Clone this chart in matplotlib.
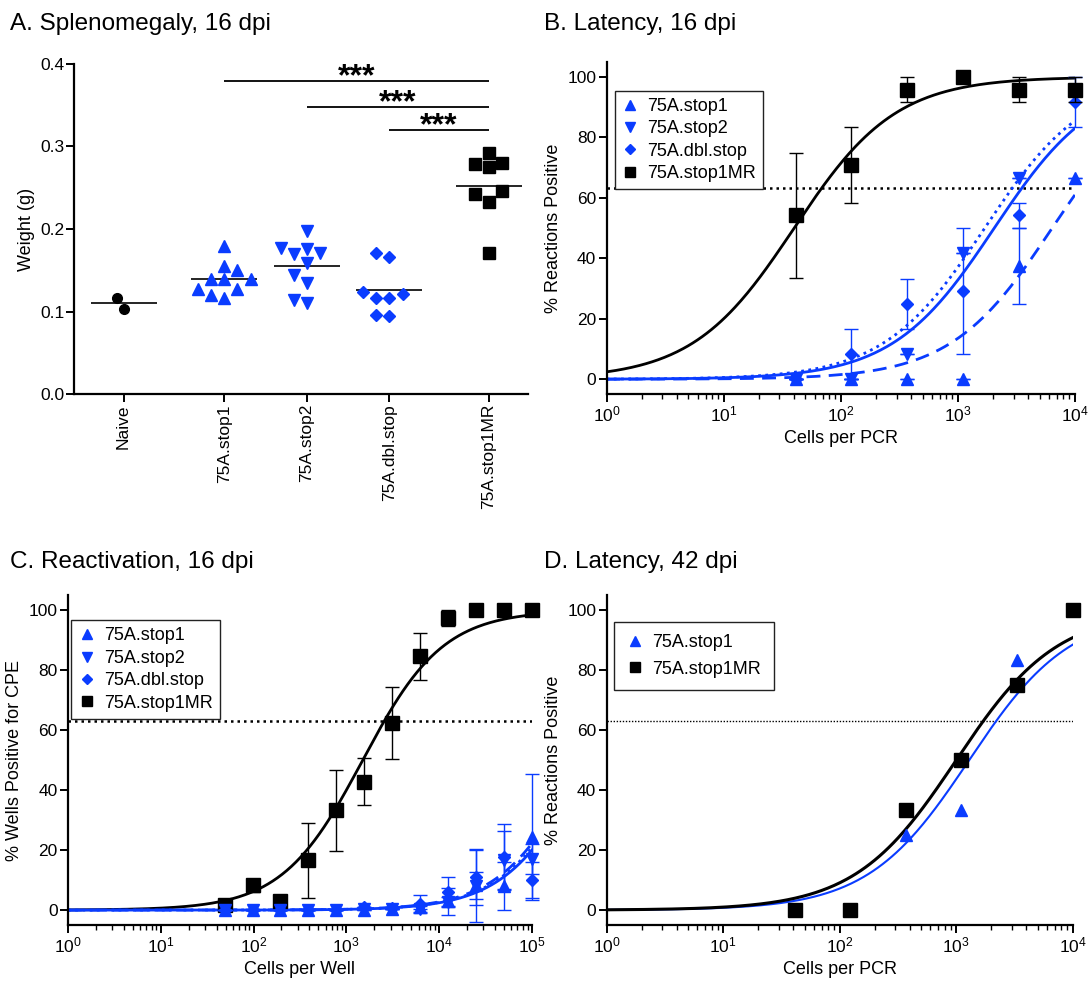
import numpy as np
import matplotlib
matplotlib.use("Agg")
import matplotlib.pyplot as plt
from matplotlib.lines import Line2D
from matplotlib.ticker import LogLocator, LogFormatterMathtext, NullFormatter

plt.rcParams['font.family'] = ['Liberation Sans', 'DejaVu Sans']
plt.rcParams['mathtext.default'] = 'regular'
plt.rcParams['font.size'] = 12

BLUE = '#0a3cff'

# ---- panel A: spleen weights (g)
groups = ['Naive', '75A.stop1', '75A.stop2', '75A.dbl.stop', '75A.stop1MR']
naive_w = [0.103, 0.117]
stop1_w = [0.180, 0.151, 0.155, 0.139, 0.139, 0.139, 0.128, 0.128, 0.116, 0.120]
stop2_w = [0.198, 0.177, 0.171, 0.170, 0.176, 0.159, 0.145, 0.135, 0.111, 0.114]
dbl_w = [0.166, 0.171, 0.124, 0.117, 0.117, 0.122, 0.095, 0.096]
mr_w = [0.280, 0.275, 0.279, 0.292, 0.243, 0.246, 0.233, 0.171]
sig_pairs = [(1, 4), (2, 4), (3, 4)]
sig_y = [0.379, 0.348, 0.3195]

# ---- panel B: latency 16 dpi
cells_pcr = [41.2, 123.5, 370.4, 1111, 3333, 10000]
b_stop1 = [0, 0, 0, 0, 37.5, 66.7]
b_stop1_err = [0, 0, 0, 0, 12.5, 0]
b_stop2 = [0, 0, 8.3, 41.7, 66.7, 95.8]
b_stop2_err = [0, 0, 0, 0, 0, 0]
b_dbl = [0, 8.3, 25.0, 29.2, 54.2, 91.7]
b_dbl_err = [0, 8.3, 8.3, 20.8, 4.2, 8.3]
b_mr = [54.2, 70.8, 95.8, 100, 95.8, 95.8]
b_mr_err = [20.8, 12.5, 4.2, 0, 4.2, 4.2]
# sigmoid fits: (EC50, Hill slope)
b_fit_stop1 = (6400, 1.0)
b_fit_stop2 = (1700, 1.0)
b_fit_dbl = (2050, 1.0)
b_fit_mr = (40, 1.0)

# ---- panel C: reactivation 16 dpi
cells_well = [48.8, 97.7, 195.3, 390.6, 781.3, 1562.5, 3125, 6250, 12500, 25000, 50000, 100000]
c_stop1 = [0, 0, 0, 0, 0, 0, 0.5, 1.0, 3.0, 8.3, 8.0, 24.5]
c_stop1_err = [0, 0, 0, 0, 0, 0, 0, 0.5, 1.5, 4.5, 8.0, 21.0]
c_stop2 = [0, 0, 0, 0, 0, 0.5, 0.5, 0.5, 2.8, 8.0, 16.7, 17.2]
c_stop2_err = [0, 0, 0, 0, 0, 0, 0, 1.5, 4.5, 12.0, 9.7, 5.0]
c_dbl = [0, 0, 0, 0, 0, 1.0, 0.8, 2.2, 6.1, 11.0, 17.8, 10.2]
c_dbl_err = [0, 0, 0, 0, 0, 0, 0, 3.0, 5.0, 9.3, 11.1, 6.0]
c_mr = [1.6, 8.3, 3.1, 16.7, 33.3, 42.9, 62.5, 84.7, 97.5, 100, 100, 100]
c_mr_err = [0, 2.1, 2.1, 12.5, 13.5, 7.7, 12.0, 7.8, 2.6, 0, 0, 0]
c_fit_stop1 = (350000, 1.0)
c_fit_stop2 = (380000, 1.0)
c_fit_dbl = (400000, 1.0)
c_fit_mr = (1500, 1.0)

# ---- panel D: latency 42 dpi
d_stop1 = [0, 0, 25.0, 33.3, 83.3, 100]
d_mr = [0, 0, 33.3, 50.0, 75.0, 100]
d_fit_stop1 = (1290, 1.0)
d_fit_mr = (1000, 1.0)

threshold = 63.2


def hill(x, fit):
    ec50, h = fit
    return 100.0 / (1.0 + (ec50 / x) ** h)


def swarm(vals, xscale, yscale, diam):
    # place points side by side when they would overlap
    order = np.argsort(vals)
    placed = []
    offs = np.zeros(len(vals))
    step = diam / xscale / 2
    cands = [0.0]
    for k in range(1, 20):
        cands += [-k * step, k * step]
    for i in order:
        for c in cands:
            ok = True
            for (px, py) in placed:
                if np.hypot((c - px) * xscale, (vals[i] - py) * yscale) < diam:
                    ok = False
                    break
            if ok:
                offs[i] = c
                placed.append((c, vals[i]))
                break
    return offs


def style_log(ax, xmax):
    ax.set_xscale('log')
    ax.set_xlim(1, xmax)
    ax.set_ylim(-5, 105)
    ax.set_yticks([0, 20, 40, 60, 80, 100])
    ax.xaxis.set_major_locator(LogLocator(base=10, numticks=10))
    ax.xaxis.set_major_formatter(LogFormatterMathtext())
    ax.xaxis.set_minor_locator(LogLocator(base=10, subs=np.arange(2, 10), numticks=10))
    ax.xaxis.set_minor_formatter(NullFormatter())
    for s in ['top', 'right']:
        ax.spines[s].set_visible(False)
    for s in ['left', 'bottom']:
        ax.spines[s].set_linewidth(1.6)
    ax.tick_params(which='major', width=1.4, length=6, labelsize=12.5, pad=1.5)
    ax.tick_params(which='minor', width=1.0, length=3.5)


def errpts(ax, x, y, e, color, marker, ms, z):
    ax.errorbar(x, y, yerr=e, fmt='none', ecolor=color, elinewidth=1,
                capsize=5, capthick=1, zorder=z, clip_on=False)
    ax.plot(x, y, linestyle='none', marker=marker, color=color, ms=ms,
            zorder=z + 0.5, clip_on=False)


fig = plt.figure(figsize=(10.89, 9.81), dpi=100)

# ================= A
axA = fig.add_axes([0.068, 0.598, 0.417, 0.337])
pos = [0, 1.22, 2.22, 3.22, 4.42]
sets = [naive_w, stop1_w, stop2_w, dbl_w, mr_w]
marks = [('o', 'black', 7), ('^', BLUE, 8.5), ('v', BLUE, 8.5), ('D', BLUE, 6.5), ('s', 'black', 8.5)]
for p, vals, (m, c, ms) in zip(pos, sets, marks):
    off = swarm(np.array(vals), 82.0, 827.0, 13)
    axA.plot(p + off, vals, linestyle='none', marker=m, color=c, ms=ms, clip_on=False, zorder=3)
    axA.hlines(np.mean(vals), p - 0.4, p + 0.4, color='black', lw=1.2, zorder=2)
for (i, j), yy in zip(sig_pairs, sig_y):
    axA.hlines(yy, pos[i], pos[j], color='black', lw=1.3)
    axA.annotate('***', xy=((pos[i] + pos[j]) / 2, yy), xytext=(0, -3),
                 textcoords='offset points', ha='center', va='baseline',
                 fontsize=23, fontweight='bold')
axA.set_xlim(-0.6, 4.9)
axA.set_ylim(0, 0.4)
axA.set_yticks([0.0, 0.1, 0.2, 0.3, 0.4])
axA.set_yticklabels(['0.0', '0.1', '0.2', '0.3', '0.4'])
axA.set_xticks(pos)
axA.set_xticklabels(groups, rotation=90)
axA.set_ylabel('Weight (g)', fontsize=13)
for s in ['top', 'right']:
    axA.spines[s].set_visible(False)
for s in ['left', 'bottom']:
    axA.spines[s].set_linewidth(1.6)
axA.tick_params(width=1.4, length=6, labelsize=12.5, pad=1)
fig.text(0.009, 0.976, 'A. Splenomegaly, 16 dpi', fontsize=17.5, va='center')

# ================= B
axB = fig.add_axes([0.557, 0.598, 0.430, 0.339])
style_log(axB, 1e4)
xs = np.logspace(0, 4, 300)
axB.plot([1, 1e4], [threshold, threshold], color='black', ls=(0, (1, 1.6)), lw=1.8)
axB.plot(xs, hill(xs, b_fit_mr), color='black', lw=2)
axB.plot(xs, hill(xs, b_fit_stop1), color=BLUE, lw=2, ls=(0, (5, 3)))
axB.plot(xs, hill(xs, b_fit_stop2), color=BLUE, lw=2, ls=(0, (1, 1.6)))
axB.plot(xs, hill(xs, b_fit_dbl), color=BLUE, lw=2)
errpts(axB, cells_pcr, b_stop1, b_stop1_err, BLUE, '^', 8.5, 3)
errpts(axB, cells_pcr, b_stop2, b_stop2_err, BLUE, 'v', 8.5, 3)
errpts(axB, cells_pcr, b_dbl, b_dbl_err, BLUE, 'D', 6.5, 3)
errpts(axB, cells_pcr, b_mr, b_mr_err, 'black', 's', 10, 5)
axB.set_xlabel('Cells per PCR', fontsize=13)
axB.set_ylabel('% Reactions Positive', fontsize=13)
fig.text(0.500, 0.976, 'B. Latency, 16 dpi', fontsize=17.5, va='center')

legend4 = [Line2D([], [], ls='none', marker='^', color=BLUE, ms=7.5, label='75A.stop1'),
           Line2D([], [], ls='none', marker='v', color=BLUE, ms=7.5, label='75A.stop2'),
           Line2D([], [], ls='none', marker='D', color=BLUE, ms=5.5, label='75A.dbl.stop'),
           Line2D([], [], ls='none', marker='s', color='black', ms=7.5, label='75A.stop1MR')]


def add_legend(ax, handles, loc, spacing=0.3, bpad=0.4):
    lg = ax.legend(handles=handles, loc='upper left', bbox_to_anchor=loc, fancybox=False,
                   edgecolor='#222222', framealpha=1, fontsize=13, handlelength=0.9,
                   handletextpad=0.5, borderpad=bpad, labelspacing=spacing, borderaxespad=0)
    lg.get_frame().set_linewidth(1.0)


add_legend(axB, legend4, (0.017, 0.913))

# ================= C
axC = fig.add_axes([0.0624, 0.057, 0.426, 0.336])
style_log(axC, 1e5)
xs = np.logspace(0, 5, 300)
axC.plot([1, 1e5], [threshold, threshold], color='black', ls=(0, (1, 1.6)), lw=1.8)
axC.plot(xs, hill(xs, c_fit_mr), color='black', lw=2)
errpts(axC, cells_well, c_mr, c_mr_err, 'black', 's', 10, 3)
axC.plot(xs, hill(xs, c_fit_stop1), color=BLUE, lw=2, ls=(0, (5, 3)))
axC.plot(xs, hill(xs, c_fit_stop2), color=BLUE, lw=2, ls=(0, (1, 1.6)))
axC.plot(xs, hill(xs, c_fit_dbl), color=BLUE, lw=2)
errpts(axC, cells_well, c_stop1, c_stop1_err, BLUE, '^', 8.5, 4)
errpts(axC, cells_well, c_stop2, c_stop2_err, BLUE, 'v', 8.5, 4)
errpts(axC, cells_well, c_dbl, c_dbl_err, BLUE, 'D', 6.5, 4)
axC.set_xlabel('Cells per Well', fontsize=13)
axC.set_ylabel('% Wells Positive for CPE', fontsize=13)
add_legend(axC, legend4, (0.007, 0.925))
fig.text(0.009, 0.427, 'C. Reactivation, 16 dpi', fontsize=17.5, va='center')

# ================= D
axD = fig.add_axes([0.557, 0.057, 0.428, 0.336])
style_log(axD, 1e4)
xs = np.logspace(0, 4, 300)
axD.plot([1, 1e4], [threshold, threshold], color='black', ls=(0, (1, 1.2)), lw=1.0)
axD.plot(xs, hill(xs, d_fit_stop1), color=BLUE, lw=1.5)
axD.plot(xs, hill(xs, d_fit_mr), color='black', lw=2.2)
axD.plot(cells_pcr, d_stop1, ls='none', marker='^', color=BLUE, ms=8.5, clip_on=False, zorder=3)
axD.plot(cells_pcr, d_mr, ls='none', marker='s', color='black', ms=10, clip_on=False, zorder=4)
axD.set_xlabel('Cells per PCR', fontsize=13)
axD.set_ylabel('% Reactions Positive', fontsize=13)
add_legend(axD, legend4[:1] + legend4[3:], (0.017, 0.92), spacing=0.5, bpad=0.7)
fig.text(0.500, 0.427, 'D. Latency, 42 dpi', fontsize=17.5, va='center')

fig.savefig('out.png', dpi=100)
